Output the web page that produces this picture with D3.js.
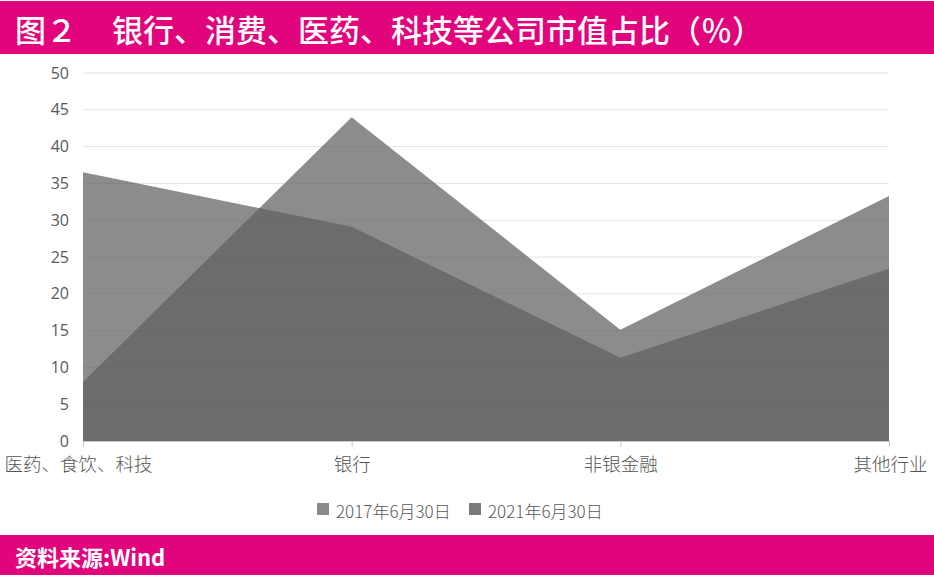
<!DOCTYPE html>
<html><head><meta charset="utf-8">
<script src="https://cdn.jsdelivr.net/npm/d3@7/dist/d3.min.js"></script>
<style>
html,body{margin:0;padding:0;background:#fff;}
svg{display:block;}
</style></head>
<body>
<svg id="chart" width="934" height="578"></svg>
<script>
const categories = ["医药、食饮、科技", "银行", "非银金融", "其他行业"];
const seriesNames = ["2017年6月30日", "2021年6月30日"];
const values2017 = [8, 44, 15.1, 33.3];
const values2021 = [36.5, 29.1, 11.3, 23.4];
const yTicks = [0, 5, 10, 15, 20, 25, 30, 35, 40, 45, 50];
const titleNum = "图２";
const titleText = "银行、消费、医药、科技等公司市值占比（％）";
const sourceText = "资料来源:Wind";

const svg = d3.select("#chart");
const W = 934, H = 578;
const magenta = "#e1047c";
const cjk = "'Noto Sans CJK SC','Noto Sans',sans-serif";

// header band
svg.append("rect").attr("x",0).attr("y",1).attr("width",W).attr("height",53).attr("fill",magenta);
svg.append("text").attr("x",15).attr("y",28).attr("dominant-baseline","central")
  .attr("fill","#fff").attr("font-family",cjk).attr("font-size",31).attr("font-weight",500)
  .text(titleNum);
svg.append("text").attr("x",112).attr("y",28).attr("dominant-baseline","central")
  .attr("fill","#fff").attr("font-family",cjk).attr("font-size",31).attr("font-weight",500)
  .attr("textLength",651).attr("lengthAdjust","spacing")
  .text(titleText);

// footer band
svg.append("rect").attr("x",0).attr("y",535).attr("width",W).attr("height",40).attr("fill",magenta);
svg.append("text").attr("x",15).attr("y",556).attr("dominant-baseline","central")
  .attr("fill","#fff").attr("font-family",cjk).attr("font-size",22).attr("font-weight",700)
  .text(sourceText);

// scales
const x = d3.scalePoint().domain(categories).range([83, 889]);
const y = d3.scaleLinear().domain([0, 50]).range([441, 73]);

// gridlines
svg.append("g").selectAll("line").data(yTicks.filter(d=>d>0)).join("line")
  .attr("x1",83).attr("x2",889).attr("y1",d=>y(d)).attr("y2",d=>y(d))
  .attr("stroke","#e4e4e4").attr("stroke-width",1);

// y axis labels
const yAxis = d3.axisLeft(y).tickValues(yTicks).tickSize(0).tickPadding(0);
const gy = svg.append("g").attr("transform","translate(69,0)").call(yAxis);
gy.select(".domain").remove();
gy.selectAll("text").attr("font-family","'Open Sans','DejaVu Sans',sans-serif").attr("font-size",16).attr("fill","#595959");

// areas
const area = d3.area().x((d,i)=>x(categories[i])).y0(y(0)).y1(d=>y(d));
const fillColor = "#5f5f5f";
const op = 0.72;
[values2017, values2021].forEach(vals=>{
  svg.append("path").datum(vals).attr("d",area).attr("fill",fillColor).attr("fill-opacity",op);
});

// x axis
const xAxis = d3.axisBottom(x).tickSize(6).tickPadding(11);
const gx = svg.append("g").attr("transform",`translate(0,${y(0)})`).call(xAxis);
gx.select(".domain").attr("stroke","#c8c8c8");
gx.selectAll(".tick line").attr("stroke","#c8c8c8");
gx.selectAll("text").attr("font-family",cjk).attr("font-size",18.5).attr("font-weight",300).attr("fill","#555");
gx.selectAll(".tick text").filter(d=>d===categories[0]).attr("text-anchor","start").attr("x",-79);
gx.selectAll(".tick text").filter(d=>d===categories[3]).attr("text-anchor","end").attr("x",38);

// legend
const legendColors = ["#8a8a8a", "#7a7a7a"];
const legendX = [317, 469];
const lg = svg.append("g");
seriesNames.forEach((n,i)=>{
  lg.append("rect").attr("x",legendX[i]).attr("y",503).attr("width",12).attr("height",12).attr("fill",legendColors[i]);
  lg.append("text").attr("x",legendX[i]+19).attr("y",510).attr("dominant-baseline","central")
    .attr("font-family",cjk).attr("font-size",17).attr("font-weight",300).attr("fill","#595959").text(n);
});
</script>
</body></html>
